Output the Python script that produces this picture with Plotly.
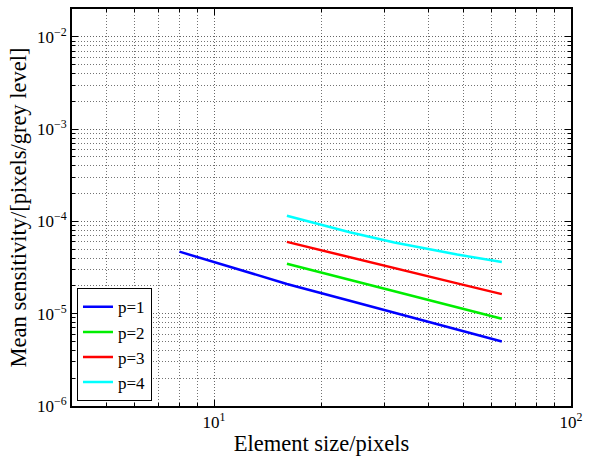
import numpy as np
import plotly.graph_objects as go

# Element sizes (pixels) and mean sensitivity for each shape-function order p
size_p1 = [8, 12, 16, 24, 32, 48, 64]
sens_p1 = [4.7e-5, 2.95e-5, 2.1e-5, 1.38e-5, 1.02e-5, 6.75e-6, 5.0e-6]

size_p234 = [16, 24, 32, 48, 64]
sens_p2 = [3.47e-5, 2.33e-5, 1.74e-5, 1.17e-5, 8.8e-6]
sens_p3 = [6.0e-5, 4.07e-5, 3.1e-5, 2.13e-5, 1.63e-5]
sens_p4 = [1.15e-4, 7.62e-5, 5.92e-5, 4.37e-5, 3.63e-5]

series_names = ["p=1", "p=2", "p=3", "p=4"]
series_colors = ["#0000ff", "#00ee00", "#ff0000", "#00ffff"]

x_tickvals = [10, 100]
x_ticktext = ["10<sup>1</sup>", "10<sup>2</sup>"]
y_tickvals = [1e-6, 1e-5, 1e-4, 1e-3, 1e-2]
y_ticktext = ["10<sup>−6</sup>", "10<sup>−5</sup>", "10<sup>−4</sup>",
              "10<sup>−3</sup>", "10<sup>−2</sup>"]

# minor ticks/grid at 2..9 within every decade
def minor_positions(lo_exp, hi_exp):
    return [m * 10.0 ** e for e in range(lo_exp, hi_exp) for m in range(2, 10)]

x_minor = minor_positions(0, 2)
y_minor = minor_positions(-6, -1)

FONT = "Liberation Serif"
DOTS = "1px,2px"

fig = go.Figure()
series = [(size_p1, sens_p1), (size_p234, sens_p2),
          (size_p234, sens_p3), (size_p234, sens_p4)]
for (xs, ys), name, col in zip(series, series_names, series_colors):
    fig.add_trace(go.Scatter(x=xs, y=ys, mode="lines", name=name,
                             line=dict(color=col, width=2.5)))

def axis_style(minor_vals):
    return dict(
        showgrid=True, gridcolor="rgba(0,0,0,0.6)", griddash=DOTS, gridwidth=1,
        ticks="inside", ticklen=6, tickcolor="black", tickwidth=1,
        showline=True, linecolor="black", linewidth=2, mirror="ticks",
        zeroline=False, tickmode="array",
        tickfont=dict(family=FONT, size=17, color="black"),
        minor=dict(tickmode="array", tickvals=minor_vals,
                   ticks="inside", ticklen=3, tickcolor="black",
                   showgrid=True, gridcolor="rgba(0,0,0,0.55)", griddash=DOTS,
                   gridwidth=1),
    )

fig.update_xaxes(type="log", range=[np.log10(4), 2],
                 tickvals=x_tickvals, ticktext=x_ticktext,
                 title=dict(text="Element size/pixels", standoff=4,
                            font=dict(family=FONT, size=22.5, color="black")),
                 **axis_style(x_minor))
fig.update_yaxes(type="log", range=[-6, np.log10(2e-2)],
                 tickvals=y_tickvals, ticktext=y_ticktext,
                 title=dict(text="Mean sensitivity/[pixels/grey level]", standoff=4,
                            font=dict(family=FONT, size=22.5, color="black")),
                 **axis_style(y_minor))

fig.update_layout(
    width=590, height=462,
    margin=dict(l=72, r=13, t=7, b=56),
    paper_bgcolor="white", plot_bgcolor="white",
    font=dict(family=FONT, color="black"),
    legend=dict(x=0.01, y=0.012, xanchor="left", yanchor="bottom",
                bgcolor="white", bordercolor="black", borderwidth=1,
                font=dict(family=FONT, size=17, color="black"),
                tracegroupgap=0, itemwidth=30),
    showlegend=True,
)

fig.write_html("out.html")
